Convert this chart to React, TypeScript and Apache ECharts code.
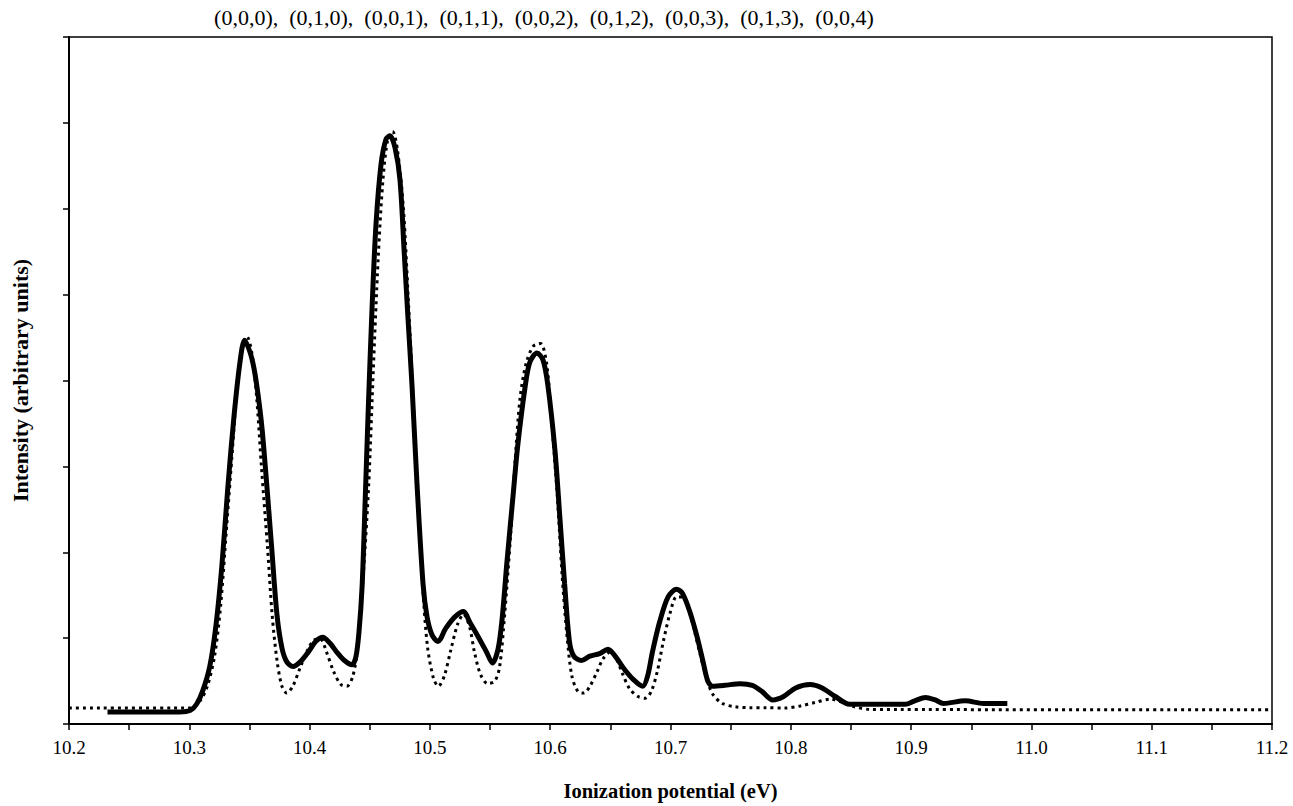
import React, { useEffect, useRef } from "react";
import * as echarts from "echarts";

// Experimental spectrum (solid) – ionization potential (eV) and intensity (arb. units)
const solidX = [
  10.232, 10.292, 10.301, 10.306, 10.311, 10.317, 10.322, 10.327, 10.332, 10.337, 10.342, 10.346,
  10.3505, 10.3538, 10.3571, 10.3604, 10.3646, 10.3687, 10.3729, 10.3771, 10.3812, 10.3862, 10.392, 10.399,
  10.405, 10.411, 10.417, 10.423, 10.429, 10.4353, 10.4386, 10.4411, 10.4436, 10.446, 10.4485, 10.4519,
  10.4552, 10.4594, 10.4635, 10.4668, 10.471, 10.4751, 10.4785, 10.4818, 10.4851, 10.4893, 10.4943, 10.4976,
  10.5017, 10.5067, 10.513, 10.521, 10.528, 10.533, 10.540, 10.547, 10.552, 10.5566, 10.560, 10.564,
  10.569, 10.573, 10.579, 10.583, 10.589, 10.594, 10.598, 10.604, 10.608, 10.612, 10.616, 10.6196,
  10.626, 10.633, 10.641, 10.648, 10.654, 10.661, 10.669, 10.677, 10.681, 10.685, 10.691, 10.698,
  10.705, 10.710, 10.716, 10.722, 10.727, 10.731, 10.735, 10.745, 10.758, 10.768, 10.776, 10.785,
  10.794, 10.804, 10.816, 10.826, 10.837, 10.849, 10.895, 10.903, 10.912, 10.920, 10.927, 10.945,
  10.960, 10.980,
];
const solidY = [
  0.14, 0.14, 0.16, 0.23, 0.38, 0.67, 1.13, 1.83, 2.75, 3.56, 4.2, 4.47,
  4.33, 4.14, 3.84, 3.45, 2.75, 2.01, 1.27, 0.88, 0.72, 0.67, 0.72, 0.84,
  0.96, 1.01, 0.94, 0.83, 0.74, 0.69, 0.79, 1.08, 1.59, 2.52, 3.56, 4.84,
  5.82, 6.52, 6.81, 6.85, 6.71, 6.34, 5.53, 4.72, 3.95, 2.79, 1.63, 1.25,
  1.04, 0.96, 1.11, 1.25, 1.31, 1.19, 1.02, 0.84, 0.71, 0.87, 1.22, 1.88,
  2.64, 3.24, 3.91, 4.21, 4.32, 4.24, 3.95, 3.18, 2.41, 1.63, 0.96, 0.79,
  0.74, 0.79, 0.82, 0.87, 0.79, 0.65, 0.52, 0.44, 0.56, 0.84, 1.19, 1.48,
  1.57, 1.52, 1.31, 1.02, 0.73, 0.5, 0.44, 0.45, 0.47, 0.45, 0.38, 0.28,
  0.32, 0.42, 0.46, 0.42, 0.32, 0.23, 0.23, 0.27, 0.31, 0.28, 0.24, 0.27,
  0.24, 0.24,
];

// Simulated spectrum (dotted)
const dottedX = [
  10.2, 10.301, 10.309, 10.315, 10.321, 10.326, 10.331, 10.336, 10.34, 10.345, 10.348, 10.352,
  10.356, 10.36, 10.365, 10.369, 10.373, 10.377, 10.381, 10.386, 10.392, 10.399, 10.404, 10.409,
  10.414, 10.42, 10.426, 10.431, 10.436, 10.44, 10.444, 10.449, 10.453, 10.457, 10.461, 10.465,
  10.469, 10.473, 10.478, 10.482, 10.486, 10.49, 10.494, 10.498, 10.503, 10.507, 10.512, 10.517,
  10.523, 10.528, 10.533, 10.537, 10.542, 10.548, 10.554, 10.558, 10.562, 10.567, 10.571, 10.575,
  10.58, 10.586, 10.592, 10.597, 10.601, 10.606, 10.61, 10.614, 10.618, 10.623, 10.628, 10.633,
  10.639, 10.644, 10.65, 10.655, 10.66, 10.666, 10.673, 10.679, 10.684, 10.689, 10.694, 10.7,
  10.705, 10.71, 10.715, 10.72, 10.725, 10.73, 10.735, 10.743, 10.754, 10.766, 10.779, 10.795,
  10.808, 10.82, 10.833, 10.843, 10.853, 10.866, 11.2,
];
const dottedY = [
  0.185, 0.185, 0.27, 0.44, 0.79, 1.37, 2.29, 3.22, 3.97, 4.43, 4.51, 4.32,
  3.8, 2.99, 2.06, 1.25, 0.73, 0.44, 0.36, 0.44, 0.65, 0.88, 0.98, 0.99,
  0.84, 0.61, 0.46, 0.44, 0.56, 0.9, 1.6, 2.75, 4.14, 5.42, 6.34, 6.81,
  6.9, 6.69, 6.0, 4.95, 3.8, 2.64, 1.6, 0.9, 0.53, 0.44, 0.56, 0.84,
  1.16, 1.28, 1.13, 0.84, 0.58, 0.47, 0.5, 0.67, 1.25, 2.18, 3.1, 3.8,
  4.2, 4.4, 4.43, 4.2, 3.56, 2.64, 1.71, 1.02, 0.56, 0.38, 0.36, 0.44,
  0.61, 0.76, 0.84, 0.76, 0.59, 0.41, 0.32, 0.3, 0.38, 0.61, 0.96, 1.31,
  1.48, 1.48, 1.34, 1.08, 0.79, 0.53, 0.35, 0.24, 0.2, 0.19, 0.19, 0.185,
  0.21, 0.25, 0.29, 0.25, 0.2, 0.17, 0.165,
];

const topLabels = [
  "(0,0,0)", "(0,1,0)", "(0,0,1)", "(0,1,1)", "(0,0,2)",
  "(0,1,2)", "(0,0,3)", "(0,1,3)", "(0,0,4)",
];

const xTitle = "Ionization potential (eV)";
const yTitle = "Intensity (arbitrary units)";

const SERIF = "'Liberation Serif', 'DejaVu Serif', serif";

export default function App() {
  const ref = useRef<HTMLDivElement>(null);

  useEffect(() => {
    if (!ref.current) return;
    const chart = echarts.init(ref.current, undefined, { renderer: "svg" });
    const solidData = solidX.map((x, i) => [x, solidY[i]]);
    const dottedData = dottedX.map((x, i) => [x, dottedY[i]]);

    chart.setOption({
      animation: false,
      backgroundColor: "#fff",
      grid: {
        left: 69,
        right: 21,
        top: 37,
        bottom: 78,
        show: true,
        borderColor: "#000",
        borderWidth: 1.5,
        backgroundColor: "transparent",
      },
      graphic: [
        {
          type: "text",
          style: {
            text: topLabels.join(",  "),
            x: 544,
            y: 17,
            align: "center",
            verticalAlign: "middle",
            font: `22px ${SERIF}`,
            fill: "#000",
          },
        },
      ],
      xAxis: {
        type: "value",
        min: 10.2,
        max: 11.2,
        interval: 0.1,
        name: xTitle,
        nameLocation: "middle",
        nameGap: 56,
        nameTextStyle: { fontFamily: SERIF, fontWeight: "bold", fontSize: 20.5, color: "#000" },
        axisLine: { show: true, onZero: false, lineStyle: { color: "#000", width: 2 } },
        axisTick: { show: true, length: 6, lineStyle: { color: "#000", width: 1.5 } },
        minorTick: { show: true, splitNumber: 2, length: 6, lineStyle: { color: "#000", width: 1.5 } },
        splitLine: { show: false },
        minorSplitLine: { show: false },
        axisLabel: {
          formatter: (v: number) => v.toFixed(1),
          fontFamily: SERIF,
          fontSize: 19,
          color: "#000",
          margin: 14,
        },
      },
      yAxis: {
        type: "value",
        min: 0,
        max: 8,
        interval: 1,
        name: yTitle,
        nameLocation: "middle",
        nameGap: 38,
        nameTextStyle: { fontFamily: SERIF, fontWeight: "bold", fontSize: 22, color: "#000" },
        axisLine: { show: true, lineStyle: { color: "#000", width: 2 } },
        axisTick: { show: true, length: 6, lineStyle: { color: "#000", width: 1.5 } },
        axisLabel: { show: false },
        splitLine: { show: false },
      },
      series: [
        {
          type: "line",
          data: dottedData,
          smooth: 0.3,
          symbol: "none",
          lineStyle: { color: "#000", width: 3, type: [3, 4] },
          z: 2,
        },
        {
          type: "line",
          data: solidData,
          smooth: 0.3,
          symbol: "none",
          lineStyle: { color: "#000", width: 5 },
          z: 3,
        },
      ],
    });
    return () => chart.dispose();
  }, []);

  return (
    <div
      ref={ref}
      style={{ position: "absolute", left: 0, top: 0, width: 1293, height: 806 }}
    />
  );
}
